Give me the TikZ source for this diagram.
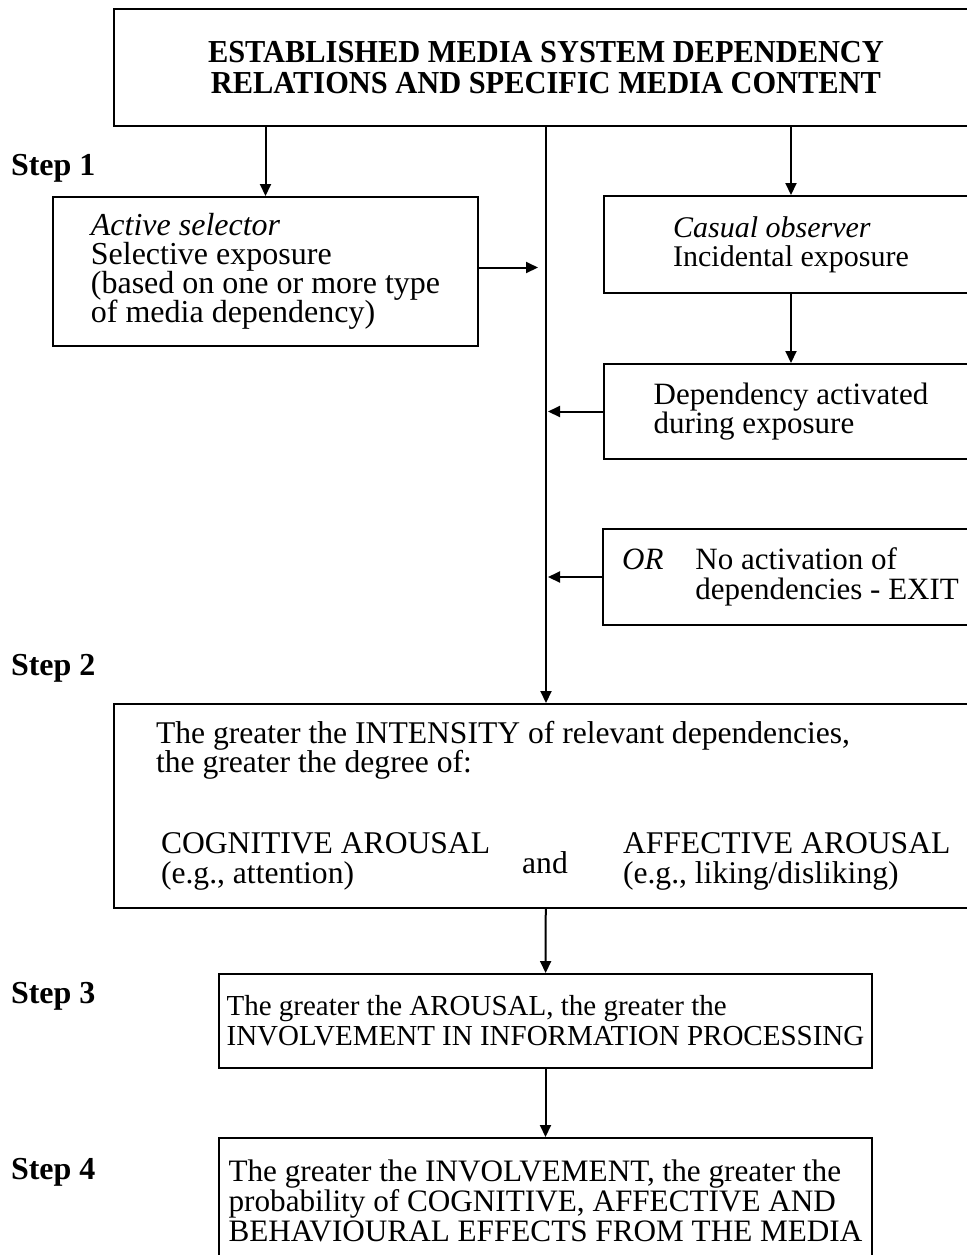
\documentclass[tikz,border=0pt]{standalone}
\usepackage{fontspec}
\setmainfont{Liberation Serif}
\newfontfamily\titlefont[FakeStretch=0.95]{Liberation Serif}
\usetikzlibrary{arrows.meta,calc}
\lineskiplimit=-6pt

\begin{document}
\begin{tikzpicture}[x=0.5pt,y=-0.5pt,>={Triangle[length=6pt,width=5.5pt]},line width=1pt,
    box/.style={draw,rectangle,inner sep=0pt,anchor=north west,align=left,font=\fontsize{15.5}{14.8}\selectfont},
    plain text/.style={anchor=north west,inner sep=0pt,align=left,font=\fontsize{15.8}{14.8}\selectfont},
    step label/.style={anchor=base west,inner sep=0pt,font=\fontsize{16}{16}\selectfont\bfseries}]

    \useasboundingbox (0,0) rectangle (967,1255);
    \clip (0,0) rectangle (967,1255);

    \node (1) at (113,8) [box, minimum width=432pt, minimum height=58.5pt, align=center, font=\titlefont\fontsize{16}{15.2}\selectfont\bfseries]{ESTABLISHED MEDIA SYSTEM DEPENDENCY\\RELATIONS AND SPECIFIC MEDIA CONTENT};

    \node (2) at (52,196) [box, minimum width=212.5pt, minimum height=74.5pt, font=\fontsize{16}{14.6}\selectfont]{\textit{Active selector}\\Selective exposure\\(based on one or more type\\of media dependency)};
    \node (3) at (603,195) [box, minimum width=187pt, minimum height=48.5pt, font=\fontsize{15}{14.3}\selectfont]{\textit{Casual observer}\\Incidental exposure};
    \node (4) at (603,363) [box, minimum width=187pt, minimum height=47.5pt]{Dependency activated\\during exposure};
    \node (5) at (602,528) [box, minimum width=187.5pt, minimum height=48pt]{\textit{OR}\hspace{16pt}No activation of\\\hphantom{\textit{OR}}\hspace{16pt}dependencies - EXIT};

    \node (6) at (113,703) [box, minimum width=432pt, minimum height=102pt]{};
    \node (9) at (155,720) [plain text]{The greater the INTENSITY of relevant dependencies,\\the greater the degree of:};
    \node (10) at (160,832) [plain text]{COGNITIVE AROUSAL\\(e.g., attention)};
    \node (11) at (545,873) [plain text, anchor=base]{and};
    \node (12) at (622,832) [plain text]{AFFECTIVE AROUSAL\\(e.g., liking/disliking)};

    \node (7) at (218,973) [box, minimum width=326.5pt, minimum height=47pt, font=\fontsize{14.5}{15}\selectfont]{The greater the AROUSAL, the greater the\\INVOLVEMENT IN INFORMATION PROCESSING};
    \node (8) at (218,1137) [box, minimum width=326.5pt, minimum height=62.5pt, font=\fontsize{15.6}{15}\selectfont]{The greater the INVOLVEMENT, the greater the\\probability of COGNITIVE, AFFECTIVE AND\\BEHAVIOURAL EFFECTS FROM THE MEDIA};

    \foreach \n/\y in {1/175,2/675,3/1003,4/1179}
        \node (s\n) at (10,\y) [step label]{Step \n};

    \path[->]
        (2.north |- 1.south) edge (2)
        (3.north |- 1.south) edge (3)
        (1) edge (6)
        ([yshift=2pt]2.east) edge [shorten >=4pt] ([yshift=2pt]2.east -| 1.south)
        (3) edge (4)
        (4.west) edge [shorten >=1pt] (4.west -| 1.south)
        (5.west) edge [shorten >=1pt] (5.west -| 1.south)
        (6) edge (7)
        (7) edge (8)
    ;
\end{tikzpicture}
\end{document}
